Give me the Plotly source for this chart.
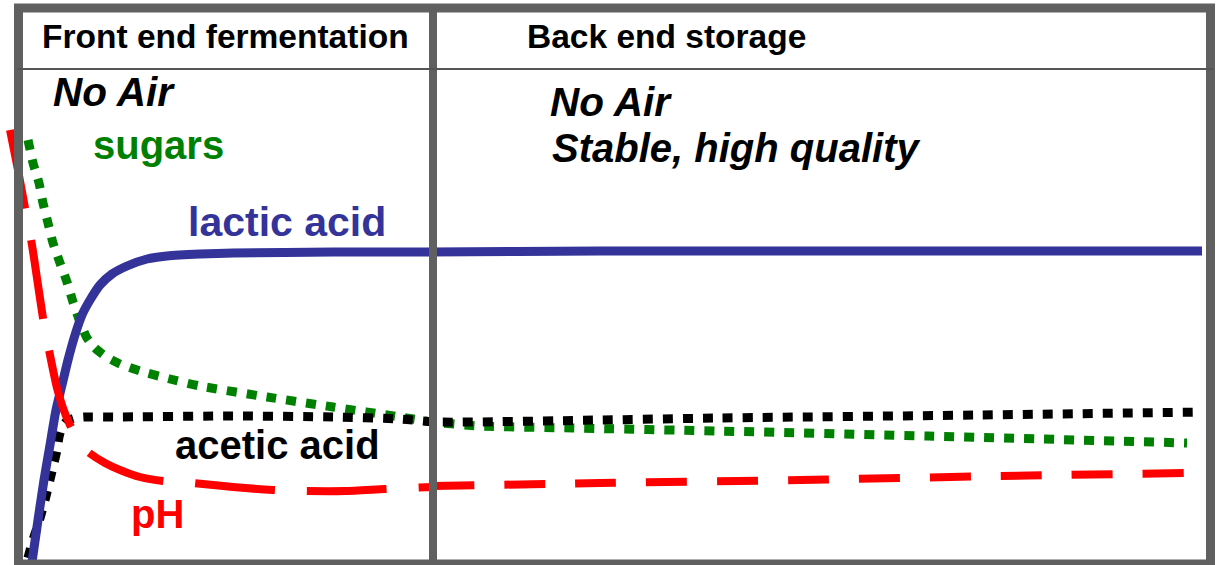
import plotly.graph_objects as go

# ---- data (time in arbitrary units, level in arbitrary units) ----
lactic_t = [3.2, 3.8, 4.4, 5.0, 5.6, 6.2, 6.8, 7.5, 8.2, 9.0, 10.0, 11.2, 12.7, 14.7, 16.7, 20.0, 23.3, 33.3, 43.0, 60.0, 80.0, 100.0, 120.2]
lactic_v = [0.3, 4.5, 8.5, 12.0, 15.5, 18.0, 20.5, 23.0, 25.0, 26.5, 28.0, 29.1, 29.9, 30.6, 30.9, 31.1, 31.2, 31.3, 31.3, 31.4, 31.4, 31.4, 31.4]

sugar_t = [2.8, 3.3, 3.9, 4.3, 4.8, 5.3, 6.0, 6.7, 7.3, 8.0, 8.7, 9.5, 10.5, 12.0, 14.0, 17.0, 20.0, 26.7, 33.3, 40.0, 43.3, 48.0, 57.4, 71.7, 92.8, 118.7]
sugar_v = [42.5, 40.2, 38.2, 36.2, 34.2, 32.2, 30.2, 28.3, 26.3, 24.3, 22.7, 21.7, 20.9, 20.1, 19.4, 18.6, 17.9, 16.8, 15.8, 14.8, 14.3, 13.9, 13.7, 13.4, 12.9, 12.2]

acetic_t = [2.8, 3.2, 3.8, 4.5, 5.3, 5.7, 5.9, 6.2, 6.7, 7.5, 8.5, 11.7, 23.3, 33.3, 40.0, 43.7, 60.0, 71.7, 98.1, 120.2]
acetic_v = [0.7, 2.2, 4.0, 6.5, 9.8, 11.5, 12.8, 13.8, 14.4, 14.7, 14.8, 14.8, 14.9, 14.8, 14.6, 14.3, 14.5, 14.7, 15.0, 15.3]

ph_front_t = [1.0, 1.8, 2.5, 3.2, 3.8, 4.3, 5.0, 5.7, 6.3, 7.0, 7.8, 8.8, 10.5, 12.0, 14.0, 16.3, 19.3, 23.3, 27.3, 30.5, 34.5, 38.5, 43.3]
ph_front_v = [43.5, 39.5, 35.7, 32.0, 28.0, 24.7, 21.0, 17.7, 15.7, 14.0, 12.5, 11.3, 10.2, 9.5, 8.8, 8.4, 8.2, 7.8, 7.5, 7.4, 7.4, 7.6, 7.8]
ph_back_t = [43.3, 60.0, 80.0, 100.0, 118.7]
ph_back_v = [7.9, 8.2, 8.5, 8.9, 9.2]

phase_split = 43.3          # boundary between the two phases
box_left, box_right = 1.85, 121.05
box_bottom, box_top = 0.1, 55.7
header_line = 49.6

FONT = "Liberation Sans, Arial, sans-serif"
BLUE, GREEN, RED, BLACK, GREY = "#333399", "#008000", "#ff0000", "#000000", "#606060"

fig = go.Figure()
fig.add_trace(go.Scatter(x=sugar_t, y=sugar_v, mode="lines",
                         line=dict(color=GREEN, width=9, dash="10px,10px", shape="spline", smoothing=0.6)))
fig.add_trace(go.Scatter(x=acetic_t, y=acetic_v, mode="lines",
                         line=dict(color=BLACK, width=9, dash="10px,10px", shape="spline", smoothing=0.6)))
fig.add_trace(go.Scatter(x=lactic_t, y=lactic_v, mode="lines",
                         line=dict(color=BLUE, width=9, shape="spline", smoothing=0.6)))
fig.add_trace(go.Scatter(x=ph_front_t, y=ph_front_v, mode="lines",
                         line=dict(color=RED, width=8, dash="80px,32px", shape="spline", smoothing=0.6)))
fig.add_trace(go.Scatter(x=ph_back_t, y=ph_back_v, mode="lines",
                         line=dict(color=RED, width=8, dash="41px,30px", shape="spline", smoothing=0.6)))

# frame, divider, header rule
fig.add_shape(type="rect", xref="x", yref="y", x0=box_left, x1=box_right, y0=box_bottom, y1=box_top,
              line=dict(color=GREY, width=9), layer="above")
fig.add_shape(type="line", xref="x", yref="y", x0=phase_split, x1=phase_split, y0=-1, y1=box_top + 0.4,
              line=dict(color=GREY, width=8), layer="above")
fig.add_shape(type="line", xref="x", yref="y", x0=box_left - 0.1, x1=box_right + 0.3, y0=header_line, y1=header_line,
              line=dict(color="#555555", width=2), layer="above")

def label(txt, x, y, size, color, bold=True, italic=False):
    t = txt
    if bold:
        t = "<b>" + t + "</b>"
    if italic:
        t = "<i>" + t + "</i>"
    fig.add_annotation(x=x, y=y, xref="x", yref="y", text=t, showarrow=False,
                       xanchor="left", yanchor="middle",
                       font=dict(family=FONT, size=size, color=color))

label("Front end fermentation", 4.0, 52.84, 33.5, BLACK)
label("Back end storage", 52.5, 52.84, 33.5, BLACK)
label("No Air", 5.1, 47.32, 40.5, BLACK, italic=True)
label("No Air", 54.8, 46.32, 40.5, BLACK, italic=True)
label("Stable, high quality", 55.0, 41.72, 40, BLACK, italic=True)
label("sugars", 9.1, 42.02, 40, GREEN)
label("lactic acid", 18.6, 34.35, 41, BLUE)
label("acetic acid", 17.3, 12.05, 40, BLACK)
label("pH", 12.9, 5.12, 40, RED)

fig.update_layout(width=1222, height=565, margin=dict(l=0, r=0, t=0, b=0),
                  paper_bgcolor="white", plot_bgcolor="white", showlegend=False)
fig.update_xaxes(range=[0, 122.2], visible=False, showgrid=False, zeroline=False)
fig.update_yaxes(range=[0, 56.5], visible=False, showgrid=False, zeroline=False)

fig.write_html("out.html",
               config={"displayModeBar": False, "staticPlot": True},
               post_script="document.body.style.margin='0';document.body.style.padding='0';"
                           "document.body.style.overflow='hidden';")
